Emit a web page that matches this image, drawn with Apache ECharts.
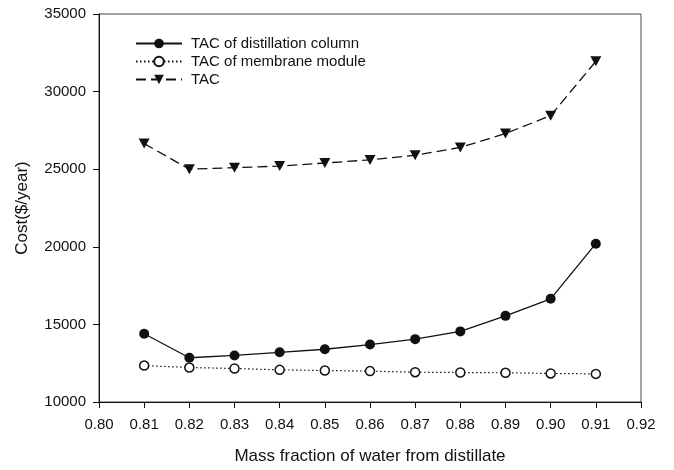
<!DOCTYPE html>
<html>
<head>
<meta charset="utf-8">
<script src="https://cdn.jsdelivr.net/npm/echarts@6/dist/echarts.min.js"></script>
<style>
  html, body { margin: 0; padding: 0; background: #fff; }
  #chart { width: 674px; height: 470px; }
</style>
</head>
<body>
<div id="chart"></div>
<script>
// Mass fraction of water in the distillate (x values)
const massFraction = [0.81, 0.82, 0.83, 0.84, 0.85, 0.86, 0.87, 0.88, 0.89, 0.90, 0.91];
// Total annual cost, $/year
const tacColumn   = [14400, 12850, 13000, 13200, 13400, 13700, 14050, 14550, 15550, 16650, 20200];
const tacMembrane = [12350, 12220, 12160, 12070, 12030, 11990, 11920, 11900, 11880, 11840, 11810];
const tacTotal    = [26650, 25000, 25100, 25200, 25400, 25600, 25900, 26400, 27300, 28450, 31950];
const seriesNames = ['TAC of distillation column', 'TAC of membrane module', 'TAC'];

const FONT = '"Liberation Sans", Arial, sans-serif';
const INK = '#111';

const pairs = ys => massFraction.map((x, i) => [x, ys[i]]);

const chart = echarts.init(document.getElementById('chart'), null, { renderer: 'canvas' });
chart.setOption({
  animation: false,
  backgroundColor: '#fff',
  textStyle: { fontFamily: FONT, color: INK },
  grid: {
    left: 99, right: 33, top: 14, bottom: 66,
    show: true, borderColor: '#444', borderWidth: 1
  },
  legend: {
    orient: 'vertical',
    left: 130, top: 31,
    itemWidth: 46, itemHeight: 12, itemGap: 3,
    textStyle: { fontFamily: FONT, fontSize: 15, lineHeight: 15, color: INK, padding: [0, 0, 0, 4] },
    data: seriesNames
  },
  xAxis: {
    type: 'value',
    min: 0.80, max: 0.92, interval: 0.01,
    name: 'Mass fraction of water from distillate',
    nameLocation: 'middle', nameGap: 46,
    nameTextStyle: { fontFamily: FONT, fontSize: 17, color: INK },
    axisLine: { show: true, onZero: false, lineStyle: { color: INK, width: 1 } },
    axisTick: { show: true, inside: false, length: 6, lineStyle: { color: INK } },
    axisLabel: { fontFamily: FONT, fontSize: 15, color: INK, margin: 15,
                 formatter: v => v.toFixed(2) },
    splitLine: { show: false }
  },
  yAxis: {
    type: 'value',
    min: 10000, max: 35000, interval: 5000,
    name: 'Cost($/year)',
    nameLocation: 'middle', nameGap: 68,
    nameTextStyle: { fontFamily: FONT, fontSize: 17, color: INK },
    axisLine: { show: true, lineStyle: { color: INK, width: 1 } },
    axisTick: { show: true, inside: false, length: 6, lineStyle: { color: INK } },
    axisLabel: { fontFamily: FONT, fontSize: 15, color: INK, margin: 13,
                 formatter: v => String(v) },
    splitLine: { show: false }
  },
  series: [
    {
      name: seriesNames[0], type: 'line', data: pairs(tacColumn),
      symbol: 'circle', symbolSize: 10,
      lineStyle: { color: INK, width: 1.3, type: 'solid' },
      itemStyle: { color: INK, borderColor: INK, borderWidth: 0 }
    },
    {
      name: seriesNames[1], type: 'line', data: pairs(tacMembrane),
      symbol: 'circle', symbolSize: 9,
      lineStyle: { color: INK, width: 1.2, type: [1.5, 2.5] },
      itemStyle: { color: '#fff', borderColor: INK, borderWidth: 1.5 }
    },
    {
      name: seriesNames[2], type: 'line', data: pairs(tacTotal),
      symbol: 'triangle', symbolRotate: 180, symbolSize: [11, 10],
      lineStyle: { color: INK, width: 1.3, type: [10, 5] },
      itemStyle: { color: INK, borderColor: INK, borderWidth: 0 }
    }
  ]
});
</script>
</body>
</html>
